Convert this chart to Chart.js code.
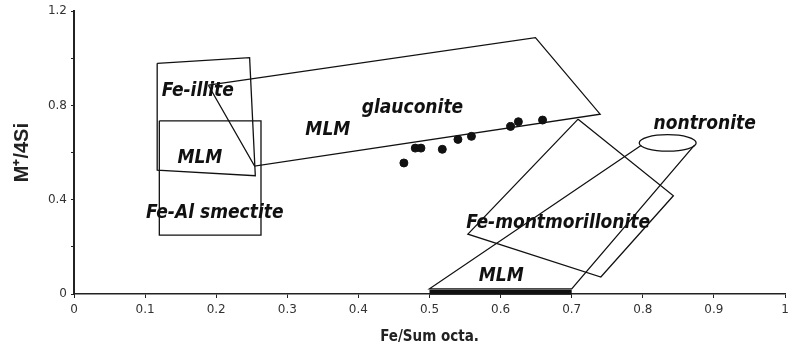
<!DOCTYPE html>
<html>
<head>
<meta charset="utf-8">
<script src="https://cdn.jsdelivr.net/npm/chart.js@4.4.0/dist/chart.umd.min.js"></script>
<style>
  html, body { margin: 0; padding: 0; background: #fff; }
  #wrap { width: 803px; height: 350px; }
</style>
</head>
<body>
<div id="wrap"><canvas id="chart"></canvas></div>
<script>
// === DATOS ===
// Ticks
const xTickVals   = [0, 0.1, 0.2, 0.3, 0.4, 0.5, 0.6, 0.7, 0.8, 0.9, 1];
const xTickLabels = ['0', '0.1', '0.2', '0.3', '0.4', '0.5', '0.6', '0.7', '0.8', '0.9', '1'];
const yTickVals   = [0, 0.2, 0.4, 0.6, 0.8, 1.0, 1.2];
const yTickLabels = ['0', '', '0.4', '', '0.8', '', '1.2'];

// Muestras (puntos negros)
const sampleX = [0.464, 0.480, 0.488, 0.518, 0.540, 0.559, 0.614, 0.625, 0.659];
const sampleY = [0.556, 0.619, 0.619, 0.614, 0.656, 0.669, 0.711, 0.731, 0.738];

// Campos (contornos)
const feIlliteX  = [0.117, 0.247, 0.255, 0.117, 0.117];
const feIlliteY  = [0.979, 1.003, 0.502, 0.526, 0.979];
const feAlSmecX  = [0.120, 0.263, 0.263, 0.120, 0.120];
const feAlSmecY  = [0.735, 0.735, 0.250, 0.250, 0.735];
const glaucX     = [0.189, 0.649, 0.740, 0.254, 0.189];
const glaucY     = [0.886, 1.088, 0.763, 0.543, 0.886];
const feMontX    = [0.709, 0.843, 0.741, 0.554, 0.709];
const feMontY    = [0.742, 0.417, 0.072, 0.254, 0.742];
const nontFunnelX = [0.798, 0.500, 0.700, 0.873];
const nontFunnelY = [0.631, 0.022, 0.022, 0.633];
const mlmBarX    = [0.500, 0.700];
const mlmBarY    = [0.007, 0.007];

// Elipse nontronita (centro y radios en unidades de datos)
const nontEllipse = { cx: 0.835, cy: 0.641, rx: 0.040, ry: 0.035 };

// Etiquetas de campos
const fieldLabels = ['Fe-illite', 'MLM', 'Fe-Al smectite', 'MLM', 'glauconite', 'nontronite', 'Fe-montmorillonite', 'MLM'];
const fieldLabelX = [0.174, 0.177, 0.198, 0.357, 0.476, 0.887, 0.681, 0.601];
const fieldLabelY = [0.862, 0.577, 0.343, 0.695, 0.787, 0.720, 0.301, 0.075];

const toPts = (xs, ys) => xs.map((x, i) => ({ x, y: ys[i] }));

function outline(xs, ys, width) {
  return {
    type: 'line',
    data: toPts(xs, ys),
    showLine: true,
    borderColor: '#111',
    borderWidth: width || 1.3,
    pointRadius: 0,
    fill: false,
    tension: 0,
    clip: false
  };
}

// Plugin: elipse y etiquetas
const annotations = {
  id: 'annotations',
  afterDatasetsDraw(chart) {
    const { ctx, scales: { x, y } } = chart;
    ctx.save();
    // elipse
    const cx = x.getPixelForValue(nontEllipse.cx);
    const cy = y.getPixelForValue(nontEllipse.cy);
    const rx = Math.abs(x.getPixelForValue(nontEllipse.cx + nontEllipse.rx) - cx);
    const ry = Math.abs(y.getPixelForValue(nontEllipse.cy + nontEllipse.ry) - cy);
    ctx.beginPath();
    ctx.ellipse(cx, cy, rx, ry, 0, 0, Math.PI * 2);
    ctx.strokeStyle = '#111';
    ctx.lineWidth = 1.3;
    ctx.stroke();
    // textos
    ctx.font = 'italic bold 19px "DejaVu Sans Condensed", sans-serif';
    ctx.fillStyle = '#111';
    ctx.textAlign = 'center';
    ctx.textBaseline = 'middle';
    fieldLabels.forEach((t, i) => {
      ctx.fillText(t, x.getPixelForValue(fieldLabelX[i]), y.getPixelForValue(fieldLabelY[i]));
    });
    ctx.restore();
  }
};

const ctx = document.getElementById('chart');
new Chart(ctx, {
  type: 'scatter',
  data: {
    datasets: [
      outline(feIlliteX, feIlliteY),
      outline(feAlSmecX, feAlSmecY),
      outline(glaucX, glaucY),
      outline(feMontX, feMontY),
      outline(nontFunnelX, nontFunnelY),
      outline(mlmBarX, mlmBarY, 5),
      {
        label: 'muestras',
        data: toPts(sampleX, sampleY),
        backgroundColor: '#111',
        borderColor: '#111',
        pointRadius: 4,
        pointHoverRadius: 4
      }
    ]
  },
  options: {
    responsive: true,
    maintainAspectRatio: false,
    devicePixelRatio: 1,
    animation: false,
    events: [],
    layout: { padding: { top: 8, right: 18, left: 0, bottom: 0 } },
    plugins: { legend: { display: false }, tooltip: { enabled: false } },
    scales: {
      x: {
        type: 'linear',
        min: 0, max: 1,
        afterBuildTicks: s => { s.ticks = xTickVals.map(v => ({ value: v })); },
        afterFit: s => { s.height = 56; },
        ticks: {
          callback: (v, i) => xTickLabels[i],
          color: '#333',
          font: { family: 'DejaVu Sans', size: 12 },
          padding: 5,
          maxRotation: 0
        },
        grid: { drawOnChartArea: false, drawTicks: true, tickLength: 4, color: '#222' },
        border: { color: '#222', width: 1.5 },
        title: {
          display: true,
          text: 'Fe/Sum octa.',
          color: '#222',
          font: { family: 'DejaVu Sans Condensed', size: 15, weight: 'bold' },
          padding: { top: 2 }
        }
      },
      y: {
        type: 'linear',
        min: 0, max: 1.2,
        afterBuildTicks: s => { s.ticks = yTickVals.map(v => ({ value: v })); },
        afterFit: s => { s.width = 74; },
        ticks: {
          callback: (v, i) => yTickLabels[i],
          color: '#333',
          font: { family: 'DejaVu Sans', size: 12 },
          padding: 4
        },
        grid: { drawOnChartArea: false, drawTicks: true, tickLength: 3, color: '#222' },
        border: { color: '#222', width: 2 },
        title: {
          display: true,
          text: 'M⁺/4Si',
          color: '#222',
          font: { family: 'Liberation Sans', size: 20, weight: 'bold' },
          padding: { top: 10, bottom: 4 }
        }
      }
    }
  },
  plugins: [annotations]
});
</script>
</body>
</html>
